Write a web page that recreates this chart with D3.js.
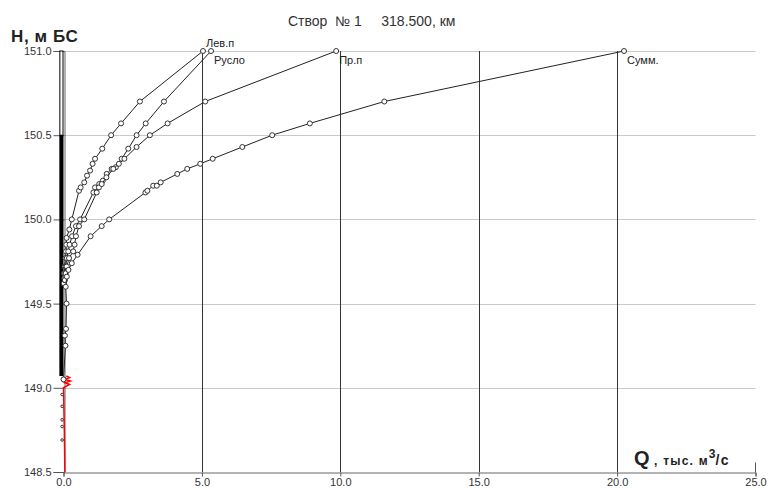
<!DOCTYPE html>
<html>
<head>
<meta charset="utf-8">
<script src="https://cdn.jsdelivr.net/npm/d3@7"></script>
<style>
  body { margin: 0; background: #fff; }
  text { font-family: "Liberation Sans", Arial, sans-serif; }
</style>
</head>
<body>
<svg width="769" height="490"></svg>
<script>
// Лев.п
var levH = [149.62, 149.65, 149.68, 149.72, 149.77, 149.81, 149.85, 149.89, 149.94, 150.00, 150.17, 150.19, 150.22, 150.26, 150.29, 150.33, 150.36, 150.42, 150.50, 150.57, 150.70, 151.00];
var levQ = [0.01, 0.03, 0.02, 0.04, 0.07, 0.09, 0.10, 0.11, 0.21, 0.30, 0.56, 0.62, 0.75, 0.85, 0.96, 1.05, 1.14, 1.40, 1.72, 2.08, 2.76, 5.04];
// Русло
var rusH = [149.64, 149.68, 149.72, 149.77, 149.81, 149.85, 149.90, 149.96, 150.00, 150.16, 150.19, 150.21, 150.23, 150.27, 150.30, 150.31, 150.36, 150.42, 150.50, 150.57, 150.70, 151.00];
var rusQ = [0.04, 0.06, 0.08, 0.12, 0.17, 0.22, 0.31, 0.45, 0.60, 1.08, 1.14, 1.29, 1.42, 1.56, 1.74, 1.89, 2.10, 2.34, 2.64, 2.97, 3.63, 5.33];
// Пр.п
var prH = [149.64, 149.68, 149.72, 149.77, 149.81, 149.85, 149.90, 149.96, 150.00, 150.16, 150.19, 150.21, 150.25, 150.30, 150.33, 150.36, 150.43, 150.50, 150.57, 150.70, 151.00];
var prQ = [0.05, 0.08, 0.12, 0.20, 0.35, 0.40, 0.45, 0.56, 0.75, 1.20, 1.28, 1.38, 1.55, 1.80, 2.00, 2.20, 2.64, 3.12, 3.76, 5.12, 9.85];
// Сумм.
var sumH = [149.05, 149.25, 149.31, 149.35, 149.50, 149.60, 149.66, 149.70, 149.74, 149.79, 149.90, 149.96, 150.00, 150.16, 150.17, 150.20, 150.20, 150.22, 150.27, 150.30, 150.33, 150.36, 150.43, 150.50, 150.57, 150.70, 151.00];
var sumQ = [0.00, 0.07, 0.05, 0.09, 0.11, 0.08, 0.12, 0.18, 0.30, 0.51, 0.98, 1.38, 1.65, 2.96, 3.03, 3.24, 3.37, 3.51, 4.11, 4.47, 4.94, 5.39, 6.46, 7.54, 8.90, 11.59, 20.25];

// small dots below 149.0 and the red curve
var lowH = [148.96, 148.89, 148.81, 148.77, 148.69];
var lowQ = [-0.05, -0.05, -0.05, -0.05, -0.05];
var redH = [148.50, 148.75, 149.00, 149.02, 149.03, 149.04, 149.05, 149.06, 149.07];
var redQ = [0.05, 0.03, 0.00, 0.22, 0.05, 0.25, 0.05, 0.22, 0.10];

// level bar on the left axis
var barH = [151.0, 150.5, 149.07];
var barQ = [-0.15, 0.0];

var xTicks = [0, 5, 10, 15, 20, 25];
var yTicks = [148.5, 149.0, 149.5, 150.0, 150.5, 151.0];
var gridX = [5, 10, 15, 20];
var gridY = [149.0, 149.5, 150.0, 150.5, 151.0];

var series = [
  {name: "Лев.п", q: levQ, h: levH},
  {name: "Русло", q: rusQ, h: rusH},
  {name: "Пр.п", q: prQ, h: prH},
  {name: "Сумм.", q: sumQ, h: sumH}
];

var svg = d3.select("svg");
var xScale = d3.scaleLinear().domain([0, 25]).range([63.5, 755.5]);
var yScale = d3.scaleLinear().domain([148.5, 151]).range([472, 51]);

// grid
svg.append("g").selectAll("line").data(gridY).enter().append("line")
  .attr("x1", xScale(0)).attr("x2", xScale(25))
  .attr("y1", function(d){ return Math.round(yScale(d)) + 0.5; })
  .attr("y2", function(d){ return Math.round(yScale(d)) + 0.5; })
  .attr("stroke", "#c8c8c8");

svg.append("g").selectAll("line").data(gridX).enter().append("line")
  .attr("x1", function(d){ return Math.round(xScale(d)) + 0.5; })
  .attr("x2", function(d){ return Math.round(xScale(d)) + 0.5; })
  .attr("y1", yScale(151)).attr("y2", yScale(148.5))
  .attr("stroke", "#333");

// axes
var xAxis = svg.append("g")
  .attr("transform", "translate(0," + (Math.round(yScale(148.5)) + 0.5) + ")")
  .call(d3.axisBottom(xScale).tickValues(xTicks).tickSize(4).tickPadding(2).tickFormat(d3.format(".1f")));
xAxis.select(".domain").attr("stroke", "#666");
xAxis.selectAll(".tick line").attr("stroke", "#555");
xAxis.selectAll("text").attr("font-size", 11).attr("fill", "#333");
xAxis.append("line").attr("x1", xScale(25)).attr("x2", xScale(25)).attr("y1", -10).attr("y2", 0).attr("stroke", "#555");

var yAxis = svg.append("g")
  .attr("transform", "translate(" + (Math.round(xScale(0)) + 0.5) + ",0)")
  .call(d3.axisLeft(yScale).tickValues(yTicks).tickSize(11).tickPadding(2).tickFormat(d3.format(".1f")));
yAxis.select(".domain").attr("stroke", "#666");
yAxis.selectAll(".tick line").attr("stroke", "#555");
yAxis.selectAll("text").attr("font-size", 11).attr("fill", "#333");

// level bar
svg.append("rect")
  .attr("x", xScale(barQ[0]) + 0.5).attr("y", yScale(barH[0]))
  .attr("width", xScale(barQ[1]) - xScale(barQ[0]) - 1)
  .attr("height", yScale(barH[1]) - yScale(barH[0]))
  .attr("fill", "#fff").attr("stroke", "#000");
svg.append("rect")
  .attr("x", xScale(barQ[0])).attr("y", yScale(barH[1]))
  .attr("width", xScale(barQ[1]) - xScale(barQ[0]))
  .attr("height", yScale(barH[2]) - yScale(barH[1]))
  .attr("fill", "#000");

var line = d3.line()
  .x(function(d){ return xScale(d[0]); })
  .y(function(d){ return yScale(d[1]); });

// red curve
svg.append("path")
  .attr("d", line(d3.zip(redQ, redH)))
  .attr("fill", "none").attr("stroke", "#ff0000").attr("stroke-width", 1.5);

svg.selectAll(".low").data(d3.zip(lowQ, lowH)).enter().append("circle")
  .attr("class", "low")
  .attr("cx", function(d){ return xScale(d[0]); })
  .attr("cy", function(d){ return yScale(d[1]); })
  .attr("r", 1.3).attr("fill", "#fff").attr("stroke", "#333");

// curves
series.forEach(function(s){
  var pts = d3.zip(s.q, s.h);
  svg.append("path").attr("d", line(pts))
    .attr("fill", "none").attr("stroke", "#222").attr("stroke-width", 1);
  svg.append("g").selectAll("circle").data(pts).enter().append("circle")
    .attr("cx", function(d){ return xScale(d[0]); })
    .attr("cy", function(d){ return yScale(d[1]); })
    .attr("r", 2.5).attr("fill", "#fff").attr("stroke", "#333").attr("stroke-width", 1);
});

// labels of the curves
var labDx = [3, 3, 3, 3];
var labDy = [-4, 13, 13, 13];
series.forEach(function(s, i){
  var n = s.q.length - 1;
  svg.append("text")
    .attr("x", xScale(s.q[n]) + labDx[i]).attr("y", yScale(s.h[n]) + labDy[i])
    .attr("font-size", 11).attr("fill", "#222")
    .text(s.name);
});

// titles
svg.append("text").attr("x", 288).attr("y", 26).attr("font-size", 14).attr("fill", "#333")
  .attr("xml:space", "preserve").style("white-space", "pre")
  .text("Створ  № 1     318.500, км");

svg.append("text").attr("x", 11).attr("y", 42).attr("font-size", 17).attr("font-weight", "bold").attr("fill", "#222")
  .attr("letter-spacing", 0.6)
  .text("Н, м БС");

var qt = svg.append("text").attr("x", 634).attr("y", 465).attr("fill", "#222").attr("font-weight", "bold");
qt.append("tspan").attr("font-size", 20).text("Q");
qt.append("tspan").attr("font-size", 12).attr("letter-spacing", 1.2).text(" , тыс. м");
qt.append("tspan").attr("font-size", 12).attr("dy", -7).text("3");
qt.append("tspan").attr("font-size", 14).attr("dy", 7).attr("letter-spacing", 1.5).text("/с");
</script>
</body>
</html>
